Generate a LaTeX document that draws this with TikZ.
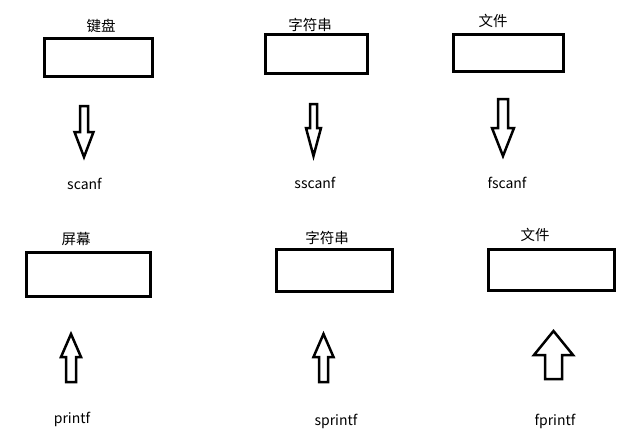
\documentclass[tikz,border=0pt]{standalone}
\usepackage{fontspec}
\setmainfont{Noto Sans CJK SC}
\usetikzlibrary{positioning}

% hollow block arrow: x, shaft half, head half, tail y, head base y, tip y
\newcommand{\blockarrow}[6]{%
  \draw[hollow] ({#1-#2},#4) -- ({#1-#2},#5) -- ({#1-#3},#5) -- (#1,#6)
    -- ({#1+#3},#5) -- ({#1+#2},#5) -- ({#1+#2},#4) -- cycle;}

\begin{document}
\begin{tikzpicture}[x=1pt, y=-1pt,
    box/.style={rectangle, draw=black, line width=3pt, inner sep=0pt},
    tag/.style={font=\fontsize{14.5}{16}\selectfont, inner sep=0pt},
    func/.style={font=\fontsize{14}{16}\selectfont, inner sep=0pt},
    hollow/.style={draw=black, line width=2.5pt, line join=miter, fill=white}
]
    \useasboundingbox (0,0) rectangle (641,440);

    % Input sources
    \node[box, minimum width=108pt, minimum height=38pt] (keyboard) at (98.5, 57.5) {};
    \node[tag] (keyboardlbl) at (101, 26) {键盘};
    \node[box, minimum width=102pt, minimum height=39pt] (instring) at (316.5, 54) {};
    \node[tag] (instringlbl) at (310, 25) {字符串};
    \node[box, minimum width=110pt, minimum height=37pt] (infile) at (508.5, 53) {};
    \node[tag] (infilelbl) at (493, 21) {文件};

    % Reading arrows
    \blockarrow{84}{4}{9.5}{106}{132}{157}
    \blockarrow{313.5}{3.5}{7.5}{104}{128}{156}
    \blockarrow{503}{5}{11}{99}{128}{156}

    % Reading functions
    \node[func] (scanf) at (84.5, 184) {scanf};
    \node[func] (sscanf) at (315, 183) {sscanf};
    \node[func] (fscanf) at (507, 183) {fscanf};

    % Output targets
    \node[box, minimum width=124pt, minimum height=44pt] (screen) at (88.5, 274.5) {};
    \node[tag] (screenlbl) at (76, 239) {屏幕};
    \node[box, minimum width=116pt, minimum height=42pt] (outstring) at (334.5, 270.5) {};
    \node[tag] (outstringlbl) at (327, 237.5) {字符串};
    \node[box, minimum width=126pt, minimum height=41pt] (outfile) at (551.5, 270) {};
    \node[tag] (outfilelbl) at (535, 234.5) {文件};

    % Writing arrows
    \blockarrow{71}{5}{10}{382}{357}{334}
    \blockarrow{323.5}{4.5}{10}{382}{357}{334}
    \blockarrow{553.5}{8.5}{19.5}{379}{355}{331}

    % Writing functions
    \node[func] (printf) at (72, 419) {printf};
    \node[func] (sprintf) at (336, 421) {sprintf};
    \node[func] (fprintf) at (555, 421) {fprintf};

\end{tikzpicture}
\end{document}
